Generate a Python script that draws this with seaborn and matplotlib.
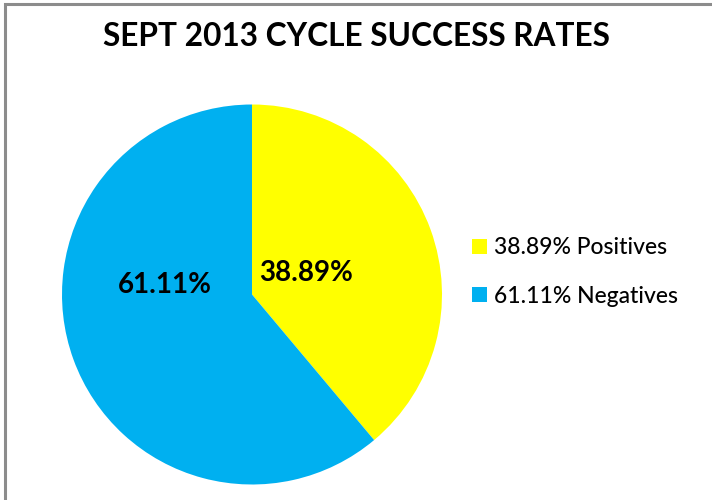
import matplotlib
matplotlib.use("Agg")
import matplotlib.pyplot as plt
from matplotlib.patches import Rectangle
import seaborn as sns

sns.set_theme(style="white")
plt.rcParams["font.family"] = ["Lato", "DejaVu Sans"]

# pie data
categories = ["Positives", "Negatives"]
shares = [38.89, 61.11]
colors = ["#FFFF00", "#00B0F0"]
title = "SEPT 2013 CYCLE SUCCESS RATES"

fig = plt.figure(figsize=(7.12, 5.0), dpi=100)

# frame of the chart area (only left and top edges are visible)
fig.patches.append(Rectangle((5 / 712, -0.1), 1.2, 1.1 - 4 / 500,
                             transform=fig.transFigure, fill=False,
                             edgecolor="#8c8c8c", linewidth=2.2))

ax = fig.add_axes([62 / 712, 15.5 / 500, 380 / 712, 380 / 500])
wedges, _, autotexts = ax.pie(
    shares, colors=colors, startangle=90, counterclock=False,
    autopct=lambda p: f"{p:.2f}%", radius=1.0,
    wedgeprops=dict(linewidth=0),
    textprops=dict(fontsize=20, fontweight="bold", color="black"),
)
ax.set_xlim(-1, 1)
ax.set_ylim(-1, 1)
ax.set_axis_off()

# label placement as in the original chart
label_pos = [(0.284, 0.113), (-0.46, 0.05)]
for t, pos in zip(autotexts, label_pos):
    t.set_position(pos)
    t.set_ha("center")
    t.set_va("center")

fig.text(0.5, 1 - 36 / 500, title, ha="center", va="center",
         fontsize=22.8, fontweight="bold", color="black")

leg = fig.legend(wedges, [f"{s:.2f}% {c}" for s, c in zip(shares, categories)],
                 loc="center left", bbox_to_anchor=(472 / 712, 1 - 272 / 500),
                 frameon=False, fontsize=16.5, handlelength=0.66,
                 handleheight=0.66, handletextpad=0.3, labelspacing=1.18,
                 borderpad=0, borderaxespad=0, labelcolor="black")
for t in leg.get_texts():
    t.set_fontweight("medium")

fig.savefig("out.png", dpi=100)
